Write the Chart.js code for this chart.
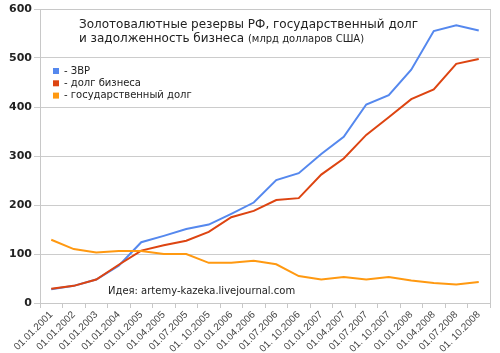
<!DOCTYPE html>
<html>
<head>
<meta charset="utf-8">
<script src="https://cdn.jsdelivr.net/npm/chart.js@4"></script>
<style>
  html, body { margin: 0; padding: 0; background: #fff; }
  #wrap { width: 500px; height: 353px; }
</style>
</head>
<body>
<div id="wrap"><canvas id="reserveChart" width="500" height="353"></canvas></div>
<script>
// --- Data (bn USD) ---
const dates = ['01.01.2001', '01.01.2002', '01.01.2003', '01.01.2004', '01.01.2005', '01.04.2005',
    '01.07.2005', '01. 10.2005', '01.01.2006', '01.04.2006', '01.07.2006', '01. 10.2006',
    '01.01.2007', '01.04.2007', '01.07.2007', '01. 10.2007', '01.01.2008', '01.04.2008',
    '01.07.2008', '01. 10.2008'];
const reserves = [28, 35, 48, 76, 124, 137, 151, 160, 182, 205, 251, 265, 304, 339, 405, 424, 476, 555, 567, 556];
const businessDebt = [29, 35, 48, 78, 107, 118, 127, 145, 175, 188, 210, 214, 262, 295, 343, 379, 416, 436, 488, 498];
const stateDebt = [129, 110, 103, 106, 106, 100, 100, 82, 82, 86, 79, 55, 48, 53, 48, 53, 46, 41, 38, 43];
const yTicks = [0, 100, 200, 300, 400, 500, 600];

const seriesNames = ['- ЗВР', '- долг бизнеса', '- государственный долг'];
const seriesColors = ['#5588ee', '#dd4411', '#ff9911'];

// --- Overlay: title, legend, credit and frame ---
const overlay = {
    id: 'overlay',
    afterDraw(chart) {
        const ctx = chart.ctx;
        const area = chart.chartArea;
        ctx.save();
        ctx.strokeStyle = '#c8c8c8';
        ctx.lineWidth = 1;
        ctx.strokeRect(area.left + 0.5, area.top + 0.5, area.right - area.left, area.bottom - area.top);

        ctx.fillStyle = '#222';
        ctx.textBaseline = 'alphabetic';
        ctx.font = '12px "DejaVu Sans"';
        ctx.fillText('Золотовалютные резервы РФ, государственный долг', 79, 28);
        ctx.fillText('и задолженность бизнеса', 79, 42);
        const w = ctx.measureText('и задолженность бизнеса ').width;
        ctx.font = '10px "DejaVu Sans"';
        ctx.fillText('(млрд долларов США)', 79 + w, 42);

        ctx.font = '10px "DejaVu Sans"';
        seriesNames.forEach((name, i) => {
            const y = 71 + i * 12.3;
            ctx.fillStyle = seriesColors[i];
            ctx.fillRect(53, y - 3, 6, 6);
            ctx.fillStyle = '#222';
            ctx.textBaseline = 'middle';
            ctx.fillText(name, 64, y);
        });

        ctx.textBaseline = 'alphabetic';
        ctx.font = '10px "DejaVu Sans"';
        ctx.fillText('Идея: artemy-kazeka.livejournal.com', 108, 294);
        ctx.restore();
    }
};

const makeLine = (data, i) => ({
    label: seriesNames[i],
    data: data,
    borderColor: seriesColors[i],
    backgroundColor: seriesColors[i],
    borderWidth: 2,
    pointRadius: 0,
    tension: 0,
    fill: false
});

new Chart(document.getElementById('reserveChart'), {
    type: 'line',
    data: {
        labels: dates,
        datasets: [makeLine(stateDebt, 2), makeLine(businessDebt, 1), makeLine(reserves, 0)]
    },
    options: {
        responsive: false,
        animation: false,
        layout: { padding: { top: 9, right: 10, left: 0, bottom: 0 } },
        plugins: { legend: { display: false }, tooltip: { enabled: false } },
        scales: {
            x: {
                type: 'category',
                offset: true,
                grid: { offset: true, drawOnChartArea: false, tickLength: 5, color: '#c8c8c8' },
                border: { color: '#c8c8c8' },
                ticks: {
                    autoSkip: false, maxRotation: 45, minRotation: 45, padding: 1,
                    color: '#444', font: { family: '"Liberation Sans"', size: 10 }
                },
                afterFit(scale) { scale.height = 50; }
            },
            y: {
                min: 0, max: 600,
                afterBuildTicks(scale) { scale.ticks = yTicks.map(v => ({ value: v })); },
                grid: { color: '#cccccc', tickLength: 6 },
                border: { color: '#c8c8c8' },
                ticks: {
                    padding: 2, color: '#222',
                    font: { family: '"DejaVu Sans"', size: 11, weight: 'bold' }
                },
                afterFit(scale) { scale.width = 40; }
            }
        }
    },
    plugins: [overlay]
});
</script>
</body>
</html>
